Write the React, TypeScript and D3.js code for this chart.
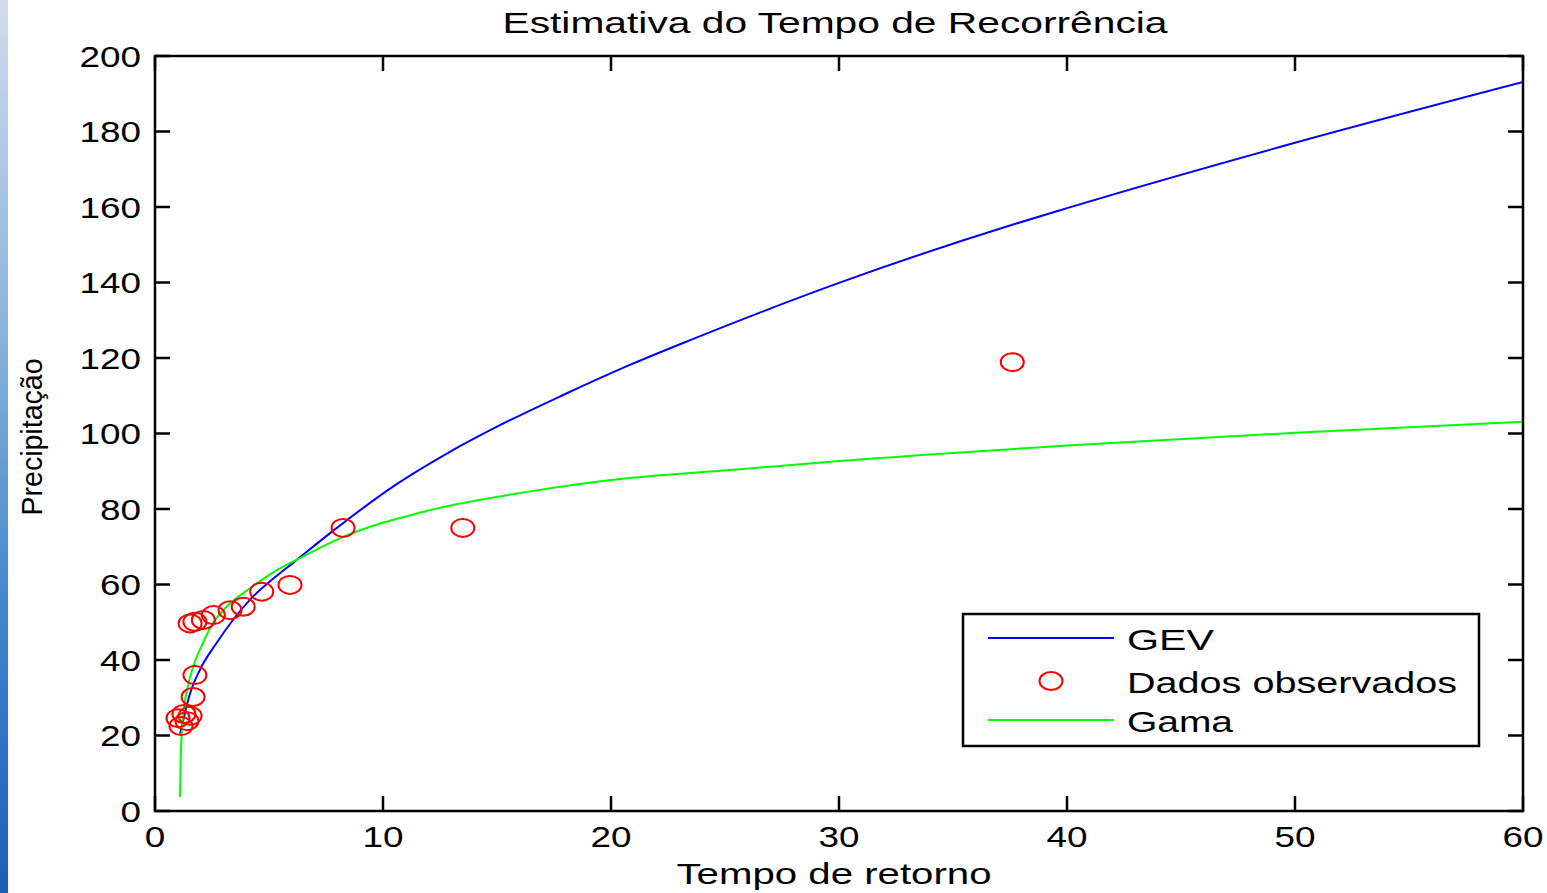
import React from "react";
import * as d3 from "d3";

const W = 1547;
const H = 893;

const xTicks = [0, 10, 20, 30, 40, 50, 60];
const yTicks = [0, 20, 40, 60, 80, 100, 120, 140, 160, 180, 200];

const gevT = [1.1, 1.17, 1.54, 1.97, 2.7, 3.42, 4.17, 5.34, 6.07, 7.68, 10.6, 12.8, 15, 17.9, 20.8, 23.5, 30, 37.6, 40, 50, 60];
const gevP = [20.5, 22.3, 31.2, 37.4, 44.5, 50.6, 56.0, 62.3, 65.8, 73.6, 86.6, 94.7, 101.8, 110.2, 118.1, 124.8, 139.9, 155.3, 159.7, 177.0, 193.1];

const gamaT = [1.1, 1.12, 1.15, 1.2, 1.38, 1.67, 2.1, 2.55, 3.14, 4.17, 5.2, 6.36, 8.1, 12.06, 16.4, 20.8, 25.2, 30, 40, 50, 60];
const gamaP = [3.7, 12, 18, 23.5, 31.3, 38.1, 44.5, 49.8, 54.1, 59.0, 63.3, 67.0, 72.2, 79.7, 84.6, 88.2, 90.3, 92.7, 96.8, 100.2, 103.1];

const obsT = [1.01, 1.14, 1.27, 1.40, 1.54, 1.67, 1.75, 1.54, 1.75, 2.12, 2.56, 3.29, 3.87, 4.68, 5.92, 8.25, 13.5, 37.6];
const obsP = [24.6, 22.5, 25.7, 23.8, 25.2, 30.2, 36.0, 49.7, 50.1, 50.6, 51.9, 53.2, 54.1, 58.1, 59.9, 75.0, 75.0, 118.9];

const left = 155, right = 1523, top = 56, bottom = 811;

export default function App() {
  const x = d3.scaleLinear().domain([0, 60]).range([left, right]);
  const y = d3.scaleLinear().domain([0, 200]).range([bottom, top]);
  const line = d3
    .line<[number, number]>()
    .x((d) => x(d[0]))
    .y((d) => y(d[1]))
    .curve(d3.curveMonotoneX);
  const gev = line(gevT.map((t, i) => [t, gevP[i]] as [number, number])) || "";
  const gama = line(gamaT.map((t, i) => [t, gamaP[i]] as [number, number])) || "";
  const font = "'Liberation Sans', Arial, sans-serif";
  const tickLen = 15;
  return (
    <svg
      width={W}
      height={H}
      style={{ position: "absolute", left: 0, top: 0, display: "block", background: "#fff" }}
    >
      <defs>
        <linearGradient id="edge" x1="0" y1="0" x2="0" y2="1">
          <stop offset="0" stopColor="#d2dbec" />
          <stop offset="0.35" stopColor="#8fb5dc" />
          <stop offset="0.7" stopColor="#3f83cc" />
          <stop offset="1" stopColor="#1c5fb0" />
        </linearGradient>
        <clipPath id="plot">
          <rect x={left} y={top} width={right - left} height={bottom - top} />
        </clipPath>
      </defs>
      <rect x={0} y={0} width={W} height={H} fill="#fff" />
      <rect x={0} y={0} width={8} height={H} fill="url(#edge)" />

      {/* title */}
      <text x={835} y={33} textAnchor="middle" fontFamily={font} fontSize={29} textLength={665} lengthAdjust="spacingAndGlyphs" fill="#000">
        Estimativa do Tempo de Recorrência
      </text>

      {/* data */}
      <g clipPath="url(#plot)">
        <path d={gev} fill="none" stroke="#0000ff" strokeWidth={2} />
        <path d={gama} fill="none" stroke="#00ff00" strokeWidth={2} />
        {obsT.map((t, i) => (
          <ellipse key={i} cx={x(t)} cy={y(obsP[i])} rx={11.5} ry={9} fill="none" stroke="#ff0000" strokeWidth={2} />
        ))}
      </g>

      {/* axes box */}
      <rect x={left} y={top} width={right - left} height={bottom - top} fill="none" stroke="#000" strokeWidth={2.5} />
      {xTicks.map((t) => (
        <g key={"x" + t}>
          <line x1={x(t)} x2={x(t)} y1={bottom} y2={bottom - tickLen} stroke="#000" strokeWidth={2.5} />
          <line x1={x(t)} x2={x(t)} y1={top} y2={top + tickLen} stroke="#000" strokeWidth={2.5} />
          <text x={x(t)} y={847} textAnchor="middle" fontFamily={font} fontSize={29} textLength={String(t).length * 20.5} lengthAdjust="spacingAndGlyphs" fill="#000">
            {t}
          </text>
        </g>
      ))}
      {yTicks.map((t) => (
        <g key={"y" + t}>
          <line x1={left} x2={left + tickLen} y1={y(t)} y2={y(t)} stroke="#000" strokeWidth={2.5} />
          <line x1={right} x2={right - tickLen} y1={y(t)} y2={y(t)} stroke="#000" strokeWidth={2.5} />
          <text x={141} y={y(t) + 10.5} textAnchor="end" fontFamily={font} fontSize={29} textLength={String(t).length * 20.5} lengthAdjust="spacingAndGlyphs" fill="#000">
            {t}
          </text>
        </g>
      ))}

      {/* axis labels */}
      <text x={834} y={884} textAnchor="middle" fontFamily={font} fontSize={29} textLength={315} lengthAdjust="spacingAndGlyphs" fill="#000">
        Tempo de retorno
      </text>
      <text
        transform="translate(42,437) rotate(-90) scale(1,1.2)"
        textAnchor="middle"
        fontFamily={font}
        fontSize={25}
        textLength={157}
        lengthAdjust="spacingAndGlyphs"
        fill="#000"
      >
        Precipitação
      </text>

      {/* legend */}
      <rect x={963} y={614} width={516} height={132} fill="#fff" stroke="#000" strokeWidth={2.5} />
      <line x1={988} x2={1114} y1={638} y2={638} stroke="#0000ff" strokeWidth={2} />
      <text x={1127} y={650} fontFamily={font} fontSize={29} textLength={87} lengthAdjust="spacingAndGlyphs" fill="#000">GEV</text>
      <ellipse cx={1051} cy={681} rx={11.5} ry={9} fill="none" stroke="#ff0000" strokeWidth={2} />
      <text x={1127} y={693} fontFamily={font} fontSize={29} textLength={330} lengthAdjust="spacingAndGlyphs" fill="#000">Dados observados</text>
      <line x1={988} x2={1114} y1={720} y2={720} stroke="#00ff00" strokeWidth={2} />
      <text x={1127} y={732} fontFamily={font} fontSize={29} textLength={106} lengthAdjust="spacingAndGlyphs" fill="#000">Gama</text>
    </svg>
  );
}
